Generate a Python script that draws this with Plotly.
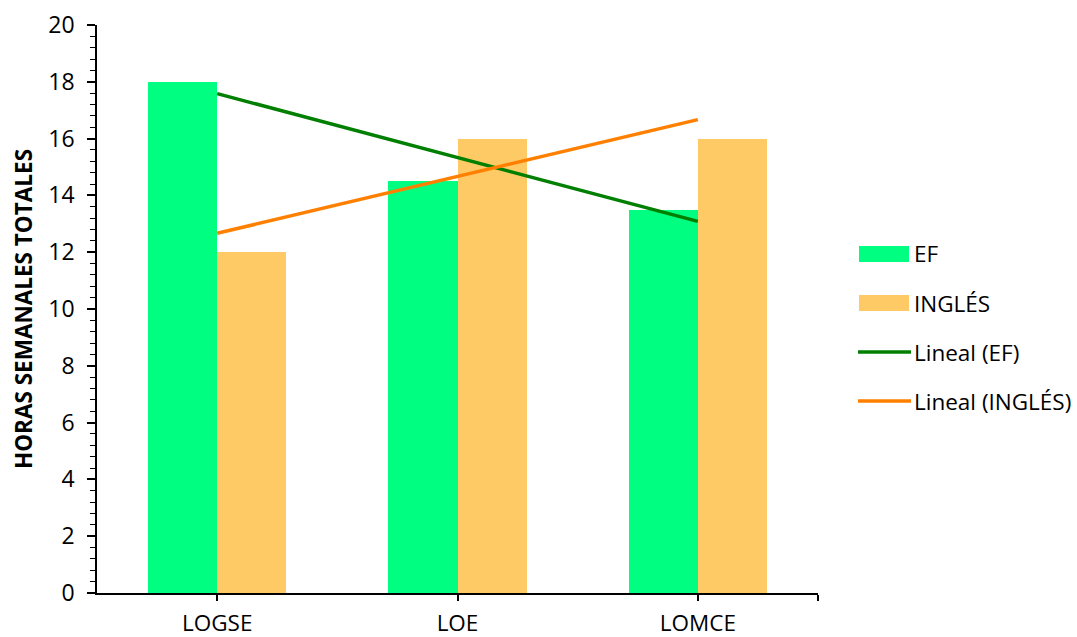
import numpy as np
import plotly.graph_objects as go

# Horas semanales totales por ley educativa
leyes = ["LOGSE", "LOE", "LOMCE"]
ef = [18, 14.5, 13.5]
ingles = [12, 16, 16]

color_ef = "#00FF80"
color_ing = "#FECA66"
color_tr_ef = "#007F00"
color_tr_ing = "#FF8000"

FONT = "Open Sans"
x = np.arange(1, len(leyes) + 1)

# Linear trend lines (least squares over category index)
def trend(vals):
    m, b = np.polyfit(x, vals, 1)
    return m * x + b

fig = go.Figure()
bw = 0.2875
fig.add_trace(go.Bar(x=x, y=ef, width=bw, offset=-bw, marker=dict(color=color_ef, line=dict(width=0)),
                     name="EF", showlegend=False))
fig.add_trace(go.Bar(x=x, y=ingles, width=bw, offset=0, marker=dict(color=color_ing, line=dict(width=0)),
                     name="INGLÉS", showlegend=False))
fig.add_trace(go.Scatter(x=[x[0], x[-1]], y=[trend(ef)[0], trend(ef)[-1]], mode="lines",
                         line=dict(color=color_tr_ef, width=3.5), name="Lineal (EF)", showlegend=False))
fig.add_trace(go.Scatter(x=[x[0], x[-1]], y=[trend(ingles)[0], trend(ingles)[-1]], mode="lines",
                         line=dict(color=color_tr_ing, width=3.5), name="Lineal (INGLÉS)", showlegend=False))

# Plot area in pixels
W, H = 1077, 637
L, R, T, B = 97, 818, 25, 593

def px(xp):
    return (xp - L) / (R - L)

def py(yp):
    return (B - yp) / (B - T)

# Legend drawn at the right of the plot area
legend_items = [("EF", "rect", color_ef), ("INGLÉS", "rect", color_ing),
                ("Lineal (EF)", "line", color_tr_ef), ("Lineal (INGLÉS)", "line", color_tr_ing)]
shapes = []
annotations = []
for i, (label, kind, col) in enumerate(legend_items):
    yc = 254 + i * 49
    if kind == "rect":
        shapes.append(dict(type="rect", xref="paper", yref="paper", x0=px(859), x1=px(909),
                           y0=py(yc + 8), y1=py(yc - 8), fillcolor=col, line=dict(width=0), layer="above"))
    else:
        shapes.append(dict(type="line", xref="paper", yref="paper", x0=px(858), x1=px(911),
                           y0=py(yc), y1=py(yc), line=dict(color=col, width=3.5), layer="above"))
    annotations.append(dict(text=label, xref="paper", yref="paper", x=px(912), y=py(yc),
                            xanchor="left", yanchor="middle", showarrow=False,
                            font=dict(family=FONT, size=22.5, color="#000000")))

fig.update_layout(
    width=W, height=H,
    margin=dict(l=L, r=W - R, t=T, b=H - B),
    paper_bgcolor="white", plot_bgcolor="white",
    barmode="overlay", bargap=0,
    font=dict(family=FONT, size=22, color="#000000"),
    shapes=shapes, annotations=annotations,
    xaxis=dict(range=[0.5, 3.5], tickvals=[1, 2, 3, 3.5], ticktext=leyes + [""],
               showline=True, linecolor="#000000", linewidth=1.5, ticks="outside",
               ticklen=6, tickwidth=1.5, tickcolor="#000000", showgrid=False, zeroline=False,
               tickfont=dict(family=FONT, size=22.5), ticklabelstandoff=3, automargin=False,
               fixedrange=True),
    yaxis=dict(range=[0, 20], dtick=2, tick0=0, showline=True, linecolor="#000000", linewidth=1.5,
               ticks="outside", ticklen=8, tickwidth=1.5, tickcolor="#000000",
               minor=dict(dtick=0.4, ticks="outside", ticklen=5, tickwidth=1.2, tickcolor="#000000", showgrid=False),
               showgrid=False, zeroline=False, tickfont=dict(family=FONT, size=23),
               ticklabelstandoff=8, automargin=False,
               title=dict(text="<b>HORAS SEMANALES TOTALES</b>", font=dict(family=FONT, size=22.5), standoff=9),
               fixedrange=True),
)

fig.write_html("out.html")
